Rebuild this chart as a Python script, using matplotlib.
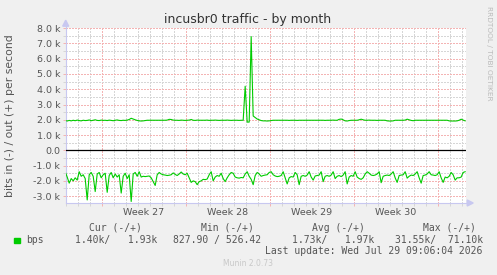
import matplotlib
matplotlib.use("Agg")
import matplotlib.pyplot as plt
import matplotlib.dates as mdates
import matplotlib.ticker as mticker
import pandas as pd

# ---------------- data ----------------
sample_start = "2026-06-25 23:00"
sample_step = "4h"
x_start = "2026-06-26 00:00"
x_end = "2026-07-29 09:06"

bps_in = [
    -1400, -1750, -2150, -1850, -2000, -1800, -1950, -1400, -1700, -1600,
    -1850, -3250, -1600, -1450, -1700, -2700, -1550, -1450, -1800, -1600,
    -1500, -2750, -1650, -1450, -1800, -1550, -1750, -1600, -2800, -1700,
    -1500, -1850, -1600, -3350, -1550, -1450, -1700, -1400, -1750, -1700,
    -1720, -1700, -1680, -1800, -2050, -2300, -1600, -1450, -1550, -1600,
    -1620, -1650, -1630, -1600, -1480, -1580, -1650, -1550, -1420, -1550,
    -1600, -1500, -1800, -2100, -2000, -2050, -2250, -2050, -2000, -1900,
    -1920, -1880, -1600, -1400, -2000, -1750, -1650, -1700, -1500, -1850,
    -2050, -1800, -1600, -1450, -1500, -1750, -1800, -1820, -1780, -1800,
    -1550, -1400, -1700, -1900, -2250, -1650, -1450, -1550, -1700, -1650,
    -1620, -1600, -1450, -1400, -1600, -1680, -1720, -1700, -1650, -1400,
    -1800, -2200, -1800, -1720, -1750, -1450, -1600, -2250, -1700, -1650,
    -1700, -1620, -1400, -1750, -1950, -1680, -1650, -1620, -1400, -2050,
    -1700, -1650, -1700, -1620, -1400, -1850, -1700, -1650, -1720, -1620,
    -1400, -2200, -1750, -1650, -1700, -1400, -1750, -1850, -1900, -1800,
    -1550, -1400, -1500, -1620, -1650, -1620, -1550, -1400, -2120, -1700,
    -1650, -1620, -1650, -1550, -1400, -1800, -2100, -1650, -1620, -1600,
    -1400, -1820, -1700, -1620, -1650, -1550, -1400, -1800, -2150, -1650,
    -1620, -1550, -1400, -1600, -1620, -1650, -1600, -1400, -1800, -2100,
    -1750, -1800, -1700, -1450, -1600, -1950, -1800, -1800, -1750, -1450,
    -1400,
]

bps_out = [
    1950, 1920, 1960, 1930, 1970, 1940, 1980, 1950, 1930, 1970,
    1950, 1960, 1990, 1940, 1970, 2000, 1960, 1950, 1980, 1960,
    1970, 1950, 1980, 1960, 1940, 1970, 1990, 1960, 1950, 1970,
    1960, 1980, 2020, 2100, 2050, 2000, 1960, 1930, 1920, 1930,
    1950, 1970, 1970, 1970, 1970, 1970, 1970, 1970, 1970, 1970,
    1970, 1980, 2030, 2020, 1980, 1970, 1970, 1960, 1980, 1970,
    1960, 1970, 1980, 2020, 1970, 1960, 1980, 1970, 1970, 1970,
    1970, 1980, 1960, 1970, 1970, 1980, 1970, 1960, 1970, 1970,
    1970, 1980, 1970, 1960, 1970, 1970, 1970, 1960, 1970, 1970,
    4200, 1850, 1850, 7450, 2250, 2150, 2050, 2000, 1950, 1930,
    1930, 1920, 1930, 1950, 1970, 1970, 1970, 1970, 1970, 1970,
    1970, 1970, 1960, 1970, 1970, 1970, 1960, 1970, 1970, 1970,
    1970, 1970, 1970, 1970, 1970, 1970, 1970, 1970, 1970, 1970,
    1960, 1970, 1970, 1970, 1980, 1970, 1970, 2030, 2050, 2000,
    1930, 1920, 1950, 1970, 1970, 1970, 1970, 2000, 2040, 2000,
    1970, 1970, 1980, 1970, 1970, 1970, 1960, 1970, 1970, 1970,
    1970, 1930, 1920, 1920, 1930, 1970, 1970, 1970, 1970, 1970,
    1980, 2040, 2000, 1960, 1940, 1970, 1970, 1970, 1970, 1970,
    1970, 1970, 1970, 1970, 1970, 1970, 1970, 1970, 1970, 1970,
    1970, 1970, 1930, 1920, 1920, 1920, 1930, 1970, 2040, 1980,
    1930,
]

week_starts = ["2026-06-29", "2026-07-06", "2026-07-13", "2026-07-20", "2026-07-27"]
week_labels = ["Week 27", "Week 28", "Week 29", "Week 30"]

y_ticks = [-3000, -2000, -1000, 0, 1000, 2000, 3000, 4000, 5000, 6000, 7000, 8000]
y_tick_labels = ["-3.0 k", "-2.0 k", "-1.0 k", "0.0", "1.0 k", "2.0 k", "3.0 k",
                 "4.0 k", "5.0 k", "6.0 k", "7.0 k", "8.0 k"]
y_min, y_max = -3450, 8000

title = "incusbr0 traffic - by month"
y_label = "bits in (-) / out (+) per second"
legend_name = "bps"
legend_headers = ["Cur (-/+)", "Min (-/+)", "Avg (-/+)", "Max (-/+)"]
legend_values = ["1.40k/   1.93k", "827.90 / 526.42", "1.73k/   1.97k", "31.55k/  71.10k"]
last_update = "Last update: Wed Jul 29 09:06:04 2026"
munin_version = "Munin 2.0.73"
side_text = "RRDTOOL / TOBI OETIKER"

# ---------------- styling ----------------
W, H = 497, 275
BG = "#f0f0f0"
GREEN = "#00cc00"
MAJ = "#f4b4b4"
MIN = "#d6d6d6"
AXIS = "#c8c8f0"
TXT = "#555555"

def fx(px):
    return px / W

def fy(py):
    return 1 - py / H

fig = plt.figure(figsize=(W / 100, H / 100), dpi=100, facecolor=BG)
left_px, right_px, top_px, bot_px = 65.7, 466.2, 28.2, 203.0
ax = fig.add_axes([fx(left_px), fy(bot_px), (right_px - left_px) / W, (bot_px - top_px) / H])
ax.set_facecolor("white")

times = pd.date_range(sample_start, periods=len(bps_out), freq=sample_step)
tnum = mdates.date2num(times.to_pydatetime())

ax.set_xlim(mdates.date2num(pd.Timestamp(x_start)), mdates.date2num(pd.Timestamp(x_end)))
ax.set_ylim(y_min, y_max)

# grid
ax.xaxis.set_major_locator(mdates.WeekdayLocator(byweekday=mdates.MO))
ax.xaxis.set_minor_locator(mdates.DayLocator())
ax.xaxis.set_major_formatter(mticker.NullFormatter())
ax.yaxis.set_major_locator(mticker.FixedLocator(y_ticks))
ax.yaxis.set_major_formatter(mticker.FixedFormatter(y_tick_labels))
ax.yaxis.set_minor_locator(mticker.MultipleLocator(500))

ax.grid(which="minor", color=MIN, linestyle=(0, (1.4, 1.4)), linewidth=0.72, antialiased=False)
ax.grid(which="major", color=MAJ, linestyle=(0, (1.4, 1.4)), linewidth=0.72, antialiased=False)
ax.set_axisbelow(True)

ax.tick_params(axis="both", which="major", length=2, width=0.72, color=MAJ,
               labelsize=6.8, labelcolor=TXT, pad=2)
ax.tick_params(axis="both", which="minor", length=2, width=0.72, color=MIN)
ax.tick_params(axis="x", which="major", labelbottom=False)

for s in ["top", "right"]:
    ax.spines[s].set_visible(False)
for s in ["left", "bottom"]:
    ax.spines[s].set_color(AXIS)
    ax.spines[s].set_linewidth(0.8)

# zero line
ax.axhline(0, color="black", linewidth=0.9, zorder=3)

# series
ax.plot(tnum, bps_out, color=GREEN, linewidth=0.8, zorder=4)
ax.plot(tnum, bps_in, color=GREEN, linewidth=0.8, zorder=4)

# axis arrows
fig.patches.append(plt.Polygon([[fx(left_px - 3), fy(top_px - 2)], [fx(left_px + 3), fy(top_px - 2)],
                                [fx(left_px), fy(top_px - 8)]], closed=True, color=AXIS,
                               transform=fig.transFigure))
fig.add_artist(plt.Line2D([fx(left_px), fx(left_px)], [fy(top_px), fy(top_px - 3)],
                          color=AXIS, linewidth=0.8))
fig.patches.append(plt.Polygon([[fx(right_px + 1), fy(bot_px - 3)], [fx(right_px + 1), fy(bot_px + 3)],
                                [fx(right_px + 7), fy(bot_px)]], closed=True, color=AXIS,
                               transform=fig.transFigure))

# week labels
for ws, lab in zip(week_starts, week_labels):
    xc = mdates.date2num(pd.Timestamp(ws) + pd.Timedelta(hours=84))
    ax.text(xc, -0.055, lab, transform=ax.get_xaxis_transform(), ha="center", va="center",
            fontsize=6.8, color=TXT)

# titles
fig.text(fx(248), fy(20), title, ha="center", va="center", fontsize=9.0, color="#333333")
fig.text(fx(10), fy(115.5), y_label, rotation=90, ha="center", va="center", fontsize=7.8, color=TXT)
fig.text(fx(488.5), fy(53), side_text, rotation=270, ha="center", va="center", fontsize=5.3,
         color="#bbbbbb")

# legend block
mono = "DejaVu Sans Mono"
hdr_right = [142, 254, 365, 476]
for r, t in zip(hdr_right, legend_headers):
    fig.text(fx(r), fy(228), t, ha="right", va="center", family=mono, fontsize=7, color=TXT)
fig.patches.append(plt.Rectangle((fx(14), fy(243)), 5.5 / W, 5.5 / H, color=GREEN,
                                 transform=fig.transFigure))
fig.text(fx(26.5), fy(240), legend_name, ha="left", va="center", family=mono, fontsize=7, color=TXT)
val_right = [157, 260.7, 374, 482.7]
for r, t in zip(val_right, legend_values):
    fig.text(fx(r), fy(240), t, ha="right", va="center", family=mono, fontsize=7, color=TXT)
fig.text(fx(482.7), fy(251.5), last_update, ha="right", va="center", family=mono, fontsize=7,
         color=TXT)
fig.text(fx(248), fy(264), munin_version, ha="center", va="center", fontsize=5.5, color="#c8c8c8")

fig.savefig("out.png", dpi=100, facecolor=BG)
